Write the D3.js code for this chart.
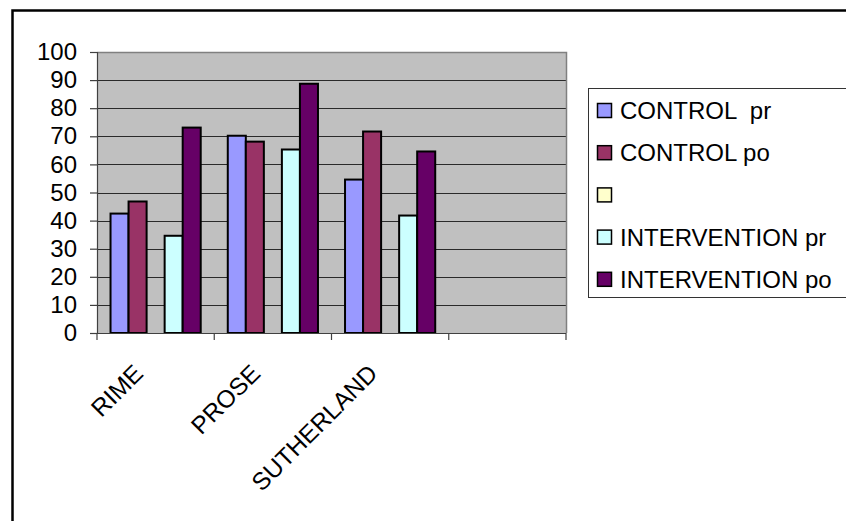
<!DOCTYPE html>
<html>
<head>
<meta charset="utf-8">
<script src="https://cdn.jsdelivr.net/npm/d3@7"></script>
<style>
html,body{margin:0;padding:0;background:#fff;}
svg{display:block;}
text{font-family:"Liberation Sans",Arial,sans-serif;fill:#000;}
</style>
</head>
<body>
<svg id="chart" width="846" height="521"></svg>
<script>
const categories = ["RIME", "PROSE", "SUTHERLAND", ""];
const seriesNames = ["CONTROL  pr", "CONTROL po", "", "INTERVENTION pr", "INTERVENTION po"];
const controlPr = [42.5, 70.2, 54.6, null];
const controlPo = [46.8, 68.1, 71.7, null];
const blankSeries = [null, null, null, null];
const interventionPr = [34.6, 65.3, 41.8, null];
const interventionPo = [73.1, 88.7, 64.6, null];
const seriesColors = ["#9999FF", "#993366", "#FFFFCC", "#CCFFFF", "#660066"];
const yTicks = [0, 10, 20, 30, 40, 50, 60, 70, 80, 90, 100];

const seriesValues = [controlPr, controlPo, blankSeries, interventionPr, interventionPo];

const svg = d3.select("#chart");
svg.style("white-space", "pre");

// outer chart border
svg.append("rect").attr("x", 12.5).attr("y", 10.5).attr("width", 850).attr("height", 530)
  .attr("fill", "none").attr("stroke", "#000").attr("stroke-width", 2.5);

const plot = {x0: 97, x1: 566, y0: 52, y1: 333};

const x = d3.scaleBand().domain(categories).range([plot.x0, plot.x1]).paddingInner(0).paddingOuter(0);
const xs = d3.scaleBand().domain(d3.range(seriesNames.length)).range([0, x.bandwidth()]).paddingInner(0).paddingOuter(0.75);
const y = d3.scaleLinear().domain([0, 100]).range([plot.y1, plot.y0]);

// plot background
svg.append("rect").attr("x", plot.x0).attr("y", plot.y0)
  .attr("width", plot.x1 - plot.x0).attr("height", plot.y1 - plot.y0)
  .attr("fill", "#C0C0C0");

// gridlines
svg.append("g").selectAll("line").data(yTicks.filter(t => t > 0 && t < 100)).join("line")
  .attr("x1", plot.x0).attr("x2", plot.x1)
  .attr("y1", d => Math.round(y(d)) + 0.5).attr("y2", d => Math.round(y(d)) + 0.5)
  .attr("stroke", "#2a2a2a").attr("stroke-width", 1);

// plot border top/right
svg.append("path")
  .attr("d", `M${plot.x0},${plot.y0 + 0.5}H${plot.x1 + 0.5}V${plot.y1}`)
  .attr("fill", "none").attr("stroke", "#808080").attr("stroke-width", 1.5);

// bars
const barData = [];
seriesValues.forEach((vals, si) => {
  vals.forEach((v, ci) => {
    if (v != null) barData.push({si, ci, v});
  });
});
svg.append("g").selectAll("rect").data(barData).join("rect")
  .attr("x", d => x(categories[d.ci]) + xs(d.si))
  .attr("y", d => y(d.v))
  .attr("width", xs.bandwidth())
  .attr("height", d => y(0) - y(d.v))
  .attr("fill", d => seriesColors[d.si])
  .attr("stroke", "#000").attr("stroke-width", 2);

// y axis
const yAxis = d3.axisLeft(y).tickValues(yTicks).tickSize(7).tickPadding(13);
const gy = svg.append("g").attr("transform", `translate(${plot.x0},0)`).call(yAxis);
gy.select(".domain").attr("stroke", "#404040").attr("stroke-width", 1.2);
gy.selectAll(".tick line").attr("stroke", "#404040").attr("stroke-width", 1.2);
gy.selectAll("text").attr("font-size", 24).attr("font-family", "Liberation Sans, Arial, sans-serif").attr("fill", "#000");

// x axis
const xBounds = categories.map(c => x(c)).concat([plot.x1]);
const gx = svg.append("g");
gx.append("line").attr("x1", plot.x0).attr("x2", plot.x1)
  .attr("y1", plot.y1 + 0.5).attr("y2", plot.y1 + 0.5)
  .attr("stroke", "#404040").attr("stroke-width", 1.2);
gx.selectAll("line.tk").data(xBounds).join("line").attr("class", "tk")
  .attr("x1", d => d).attr("x2", d => d)
  .attr("y1", plot.y1).attr("y2", plot.y1 + 7)
  .attr("stroke", "#404040").attr("stroke-width", 1.2);
gx.selectAll("text").data(categories).join("text")
  .attr("transform", d => `translate(${x(d) + x.bandwidth() / 2 - 11},${375}) rotate(-45)`)
  .attr("text-anchor", "end")
  .attr("font-size", 24.5)
  .text(d => d);

// legend
const leg = svg.append("g");
leg.append("rect").attr("x", 588.5).attr("y", 88.5).attr("width", 270).attr("height", 209)
  .attr("fill", "#fff").attr("stroke", "#333").attr("stroke-width", 1);
const rowY = i => 110.5 + i * 42.2;
const items = leg.selectAll("g.item").data(seriesNames).join("g").attr("class", "item");
items.append("rect")
  .attr("x", 597.5).attr("y", (d, i) => rowY(i) - 7)
  .attr("width", 14).attr("height", 14)
  .attr("fill", (d, i) => seriesColors[i]).attr("stroke", "#000").attr("stroke-width", 1.5);
items.append("text")
  .attr("x", 620).attr("y", (d, i) => rowY(i) + 8.5)
  .attr("font-size", 24)
  .attr("xml:space", "preserve")
  .style("white-space", "pre")
  .text(d => d);
</script>
</body>
</html>
